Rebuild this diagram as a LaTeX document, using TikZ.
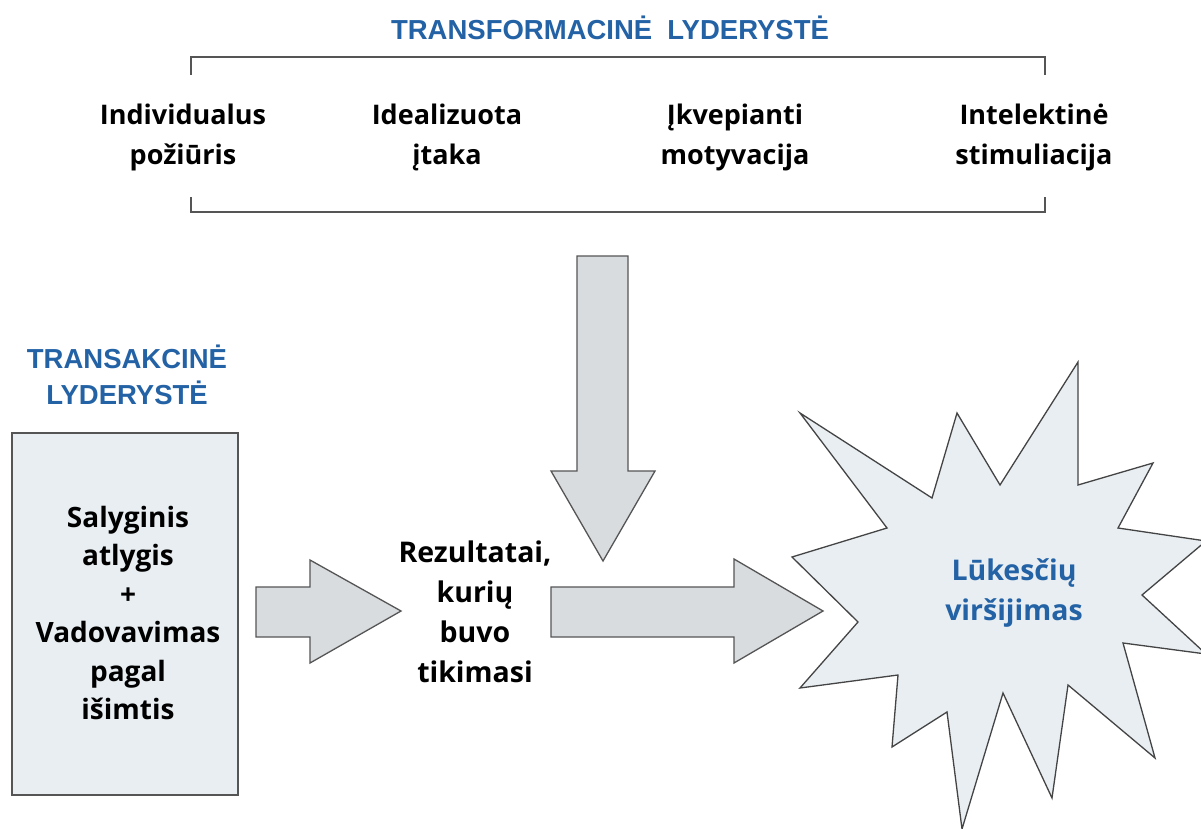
\documentclass[tikz,border=0pt]{standalone}
\usepackage{fontspec}
\setmainfont{Open Sans}
\newfontfamily\headfont{Liberation Sans}
\begin{document}
\definecolor{headblue}{HTML}{2462A6}
\definecolor{arrowfill}{HTML}{D9DCDF}
\definecolor{boxfill}{HTML}{E8EEF2}
\definecolor{edgegray}{HTML}{555555}
\begin{tikzpicture}[x=1pt,y=-1pt,
  heading/.style={font=\headfont\fontsize{27.5}{36}\selectfont\bfseries, text=headblue, align=center, inner sep=0pt},
  toplabel/.style={font=\fontsize{27}{40}\selectfont\bfseries, align=center, inner sep=0pt},
  midtext/.style={font=\fontsize{28.5}{40}\selectfont\bfseries, align=center, inner sep=0pt},
  boxtext/.style={font=\fontsize{28}{38.5}\selectfont\bfseries, align=center, inner sep=0pt},
  blockarrow/.style={fill=arrowfill, draw=edgegray, line width=1.3pt, line join=miter},
  bracketline/.style={draw=edgegray, line width=1.6pt}]
\useasboundingbox (0,0) rectangle (1201,829);

% heading and bracket of the four components
\node[heading] (trf) at (610,28) {TRANSFORMACINĖ\hspace{0.55em}LYDERYSTĖ};
\draw[bracketline] (191,75) -- (191,57) -- (1045,57) -- (1045,75);
\draw[bracketline] (191,197) -- (191,212) -- (1045,212) -- (1045,197);
\node[toplabel] (ind) at (183,137) {Individualus\\požiūris};
\node[toplabel] (ide) at (447,137) {Idealizuota\\įtaka};
\node[toplabel] (ikv) at (735,137) {Įkvepianti\\motyvacija};
\node[toplabel] (int) at (1034,137) {Intelektinė\\stimuliacija};

% transactional side
\node[heading] (trs) at (127,375) {TRANSAKCINĖ\\LYDERYSTĖ};
\node[draw=edgegray, line width=1.3pt, fill=boxfill, minimum width=226pt, minimum height=362pt, inner sep=0pt] (box) at (125,614) {};
\node[boxtext] (boxt) at (128,613) {Salyginis\\atlygis\\+\\Vadovavimas\\pagal\\išimtis};

% expected outcomes
\node[midtext] (rez) at (475,612) {Rezultatai,\\kurių\\buvo\\tikimasi};

% block arrows
\draw[blockarrow] (256,587) -- (310,587) -- (310,560) -- (401,611) -- (310,663) -- (310,637) -- (256,637) -- cycle;
\draw[blockarrow] (551,587) -- (734,587) -- (734,559) -- (823,611) -- (734,663) -- (734,637) -- (551,637) -- cycle;
\draw[blockarrow] (577,256) -- (628,256) -- (628,471) -- (655,471) -- (603,561) -- (551,471) -- (577,471) -- cycle;

% starburst
\begin{scope}
\clip (0,0) rectangle (1201,829);
\draw[fill=boxfill, draw=edgegray!80!black, line width=1.3pt, line join=miter]
  (1078,362) -- (1078,485) -- (1153,463) -- (1118,528) -- (1206,541) -- (1142,595)
  -- (1206,654) -- (1123,643) -- (1155,758) -- (1068,685) -- (1052,798) -- (1003,693)
  -- (962,829) -- (947,712) -- (892,747) -- (898,675) -- (800,688) -- (858,622)
  -- (792,557) -- (887,528) -- (800,413) -- (932,498) -- (957,413) -- (1000,485) -- cycle;
\end{scope}
\node[midtext, text=headblue] (luk) at (1014,593) {Lūkesčių\\viršijimas};
\end{tikzpicture}
\end{document}
